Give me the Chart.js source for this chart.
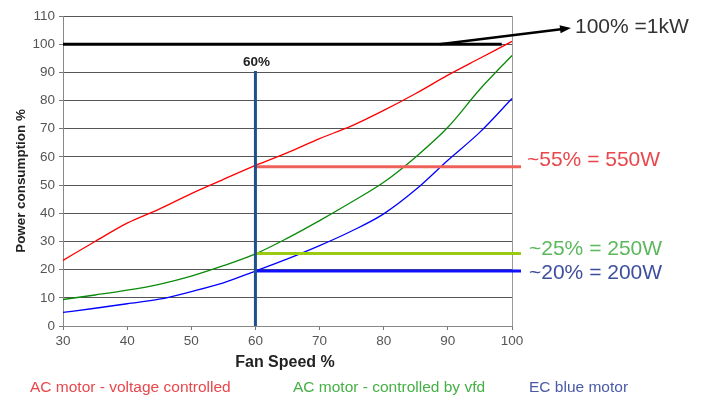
<!DOCTYPE html>
<html>
<head>
<meta charset="utf-8">
<script src="https://cdn.jsdelivr.net/npm/chart.js@4.4.1/dist/chart.umd.min.js"></script>
<style>
  html, body { margin: 0; padding: 0; background: #fff; }
  #wrap { width: 706px; height: 396px; position: relative; }
</style>
</head>
<body>
<div id="wrap"><canvas id="chart" width="706" height="396"></canvas></div>
<script>
// Fan speed (%) sampled every 5 points
const fanSpeed = [30, 35, 40, 45, 50, 55, 60, 65, 70, 75, 80, 85, 90, 95, 100];

// Power consumption (%)
const acVoltage = [23.3, 30, 36.5, 41.5, 47, 52, 57, 61.5, 66.5, 71, 76.5, 82.5, 89, 95, 101];
const acVfd     = [9.4, 11, 12.7, 14.8, 17.7, 21.4, 25.6, 31.2, 37.4, 44, 51, 60, 70.5, 84, 96];
const ecBlue    = [4.8, 6.3, 7.9, 9.5, 12.2, 15.3, 19.5, 23.8, 28.5, 33.7, 39.8, 48.4, 58.8, 68.8, 80.7];

const seriesNames = ['AC motor - voltage controlled', 'AC motor - controlled by vfd', 'EC blue motor'];

// Reference markers: 100% line, 60% speed marker and the read-off levels
const fullLoadLevel = 100;
const markerSpeed = 60;
const markerTop = 90.5;
const levelValues = [56.5, 25.7, 19.5];
const levelLabels = ['~55% = 550W', '~25% = 250W', '~20% = 200W'];
const levelEnd = 101.4;

const xTicks = [30, 40, 50, 60, 70, 80, 90, 100];

function pts(ys) {
  return fanSpeed.map((x, i) => ({ x, y: ys[i] }));
}

const LABEL_FONT = '"Liberation Sans", Arial, sans-serif';

const overlay = {
  id: 'overlay',
  beforeDatasetsDraw(chart) {
    const { ctx, scales: { x, y } } = chart;
    ctx.save();
    // 100% line
    ctx.strokeStyle = '#000';
    ctx.lineWidth = 3;
    ctx.beginPath();
    ctx.moveTo(x.getPixelForValue(30), y.getPixelForValue(fullLoadLevel));
    ctx.lineTo(x.getPixelForValue(98.4), y.getPixelForValue(fullLoadLevel));
    ctx.stroke();
    ctx.restore();
  },
  afterDatasetsDraw(chart) {
    const { ctx, scales: { x, y } } = chart;
    ctx.save();

    // level lines from the 60% marker out past the plot edge
    const levelColors = ['#f0605a', '#9acb10', '#1010ff'];
    levelValues.forEach((v, i) => {
      ctx.strokeStyle = levelColors[i];
      ctx.lineWidth = 3;
      ctx.beginPath();
      ctx.moveTo(x.getPixelForValue(markerSpeed), y.getPixelForValue(v));
      ctx.lineTo(x.getPixelForValue(levelEnd), y.getPixelForValue(v));
      ctx.stroke();
    });

    // vertical 60% marker
    const mx = x.getPixelForValue(markerSpeed);
    ctx.strokeStyle = '#1f4f8f';
    ctx.lineWidth = 3;
    ctx.beginPath();
    ctx.moveTo(mx, y.getPixelForValue(0));
    ctx.lineTo(mx, y.getPixelForValue(markerTop));
    ctx.stroke();

    ctx.fillStyle = '#222';
    ctx.font = 'bold 13.5px ' + LABEL_FONT;
    ctx.textAlign = 'center';
    ctx.textBaseline = 'middle';
    ctx.fillText(markerSpeed + '%', mx + 1, 62);

    // arrow to the "100% =1kW" note
    const ax0 = x.getPixelForValue(88.7), ay0 = y.getPixelForValue(fullLoadLevel);
    const ax1 = 571, ay1 = 28;
    ctx.strokeStyle = '#000';
    ctx.lineWidth = 2.5;
    ctx.beginPath();
    ctx.moveTo(ax0, ay0);
    ctx.lineTo(ax1 - 8, ay1 + 1);
    ctx.stroke();
    const ang = Math.atan2(ay1 - ay0, ax1 - ax0);
    ctx.fillStyle = '#000';
    ctx.beginPath();
    ctx.moveTo(ax1, ay1);
    ctx.lineTo(ax1 - 11 * Math.cos(ang) + 4 * Math.sin(ang), ay1 - 11 * Math.sin(ang) - 4 * Math.cos(ang));
    ctx.lineTo(ax1 - 11 * Math.cos(ang) - 4 * Math.sin(ang), ay1 - 11 * Math.sin(ang) + 4 * Math.cos(ang));
    ctx.closePath();
    ctx.fill();

    ctx.textAlign = 'left';
    ctx.font = '21px ' + LABEL_FONT;
    ctx.fillStyle = '#333';
    ctx.fillText('100% =1kW', 575, 27);

    // level notes
    const noteColors = ['#e8474c', '#5cb85c', '#3e4f9e'];
    const noteY = [160, 249, 273];
    ctx.font = '21px ' + LABEL_FONT;
    levelLabels.forEach((t, i) => {
      ctx.fillStyle = noteColors[i];
      ctx.fillText(t, i === 0 ? 527 : 529, noteY[i]);
    });

    // series names under the chart
    const legendColors = ['#e8474c', '#45b045', '#4a5aa8'];
    const legendX = [30, 293, 529];
    ctx.font = '15.5px ' + LABEL_FONT;
    seriesNames.forEach((t, i) => {
      ctx.fillStyle = legendColors[i];
      ctx.fillText(t, legendX[i], 388);
    });

    // axis titles
    ctx.fillStyle = '#222';
    ctx.textAlign = 'center';
    ctx.font = 'bold 16px ' + LABEL_FONT;
    ctx.fillText('Fan Speed %', 285, 363);
    ctx.save();
    ctx.translate(21, 181);
    ctx.rotate(-Math.PI / 2);
    ctx.font = 'bold 13.4px ' + LABEL_FONT;
    ctx.fillText('Power consumption %', 0, 0);
    ctx.restore();

    ctx.restore();
  }
};

new Chart(document.getElementById('chart'), {
  type: 'line',
  data: {
    datasets: [
      { label: seriesNames[0], data: pts(acVoltage), borderColor: '#ff0000', borderWidth: 1.3, pointRadius: 0, cubicInterpolationMode: 'monotone', clip: false },
      { label: seriesNames[1], data: pts(acVfd), borderColor: '#0a8a0a', borderWidth: 1.3, pointRadius: 0, cubicInterpolationMode: 'monotone', clip: false },
      { label: seriesNames[2], data: pts(ecBlue), borderColor: '#0000ff', borderWidth: 1.3, pointRadius: 0, cubicInterpolationMode: 'monotone', clip: false },
    ],
  },
  options: {
    responsive: false,
    animation: false,
    layout: { padding: { left: 0, right: 194, top: 16, bottom: 30 } },
    plugins: { legend: { display: false }, tooltip: { enabled: false } },
    scales: {
      x: {
        type: 'linear',
        min: 30,
        max: 100,
        afterBuildTicks(scale) { scale.ticks = xTicks.map(v => ({ value: v })); },
        afterFit(scale) { scale.height = 40; },
        border: { color: '#888', width: 1 },
        grid: {
          drawOnChartArea: true,
          color: ctx => (ctx.tick && ctx.tick.value === 100 ? '#999' : 'rgba(0,0,0,0)'),
          tickColor: '#777',
          tickLength: 4,
        },
        ticks: { color: '#555', font: { family: LABEL_FONT, size: 13.5 }, padding: 3, maxRotation: 0 },
      },
      y: {
        min: 0,
        max: 110,
        ticks: { stepSize: 10, color: '#555', font: { family: LABEL_FONT, size: 13.5 }, padding: 4 },
        afterFit(scale) { scale.width = 63; },
        border: { color: '#888', width: 1 },
        grid: { color: '#555', lineWidth: 1, tickLength: 4, tickColor: '#777' },
      },
    },
  },
  plugins: [overlay],
});
</script>
</body>
</html>
